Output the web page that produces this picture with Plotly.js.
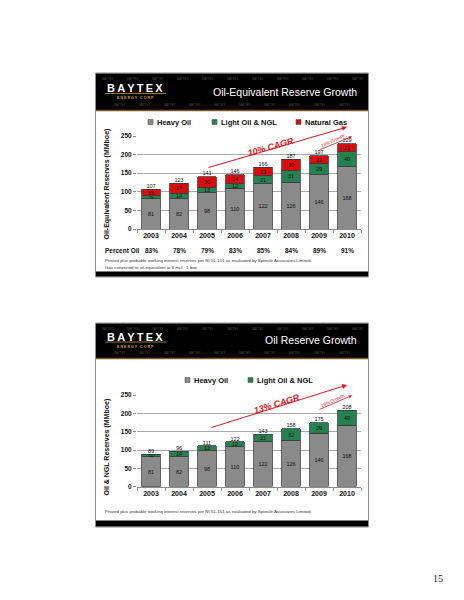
<!DOCTYPE html>
<html>
<head>
<meta charset="utf-8">
<script src="https://cdn.plot.ly/plotly-3.0.1.min.js"></script>
<style>html,body{margin:0;padding:0;background:#fff;}#chart{width:464px;height:600px;}</style>
</head>
<body>
<div id="chart"></div>
<script>
// ---------- data ----------
const years = ['2003','2004','2005','2006','2007','2008','2009','2010'];
const heavyOil1 = [81, 82, 98, 110, 122, 126, 146, 168];
const lightOil1 = [8, 14, 13, 12, 21, 31, 29, 40];
const naturalGas1 = [18, 27, 30, 24, 23, 30, 22, 21];
const totals1 = [107, 123, 141, 146, 166, 187, 197, 229];
const percentOil = ['83%','78%','79%','83%','85%','84%','89%','91%'];

const heavyOil2 = [81, 82, 98, 110, 122, 126, 146, 168];
const lightOil2 = [8, 14, 13, 12, 21, 32, 29, 40];
const totals2 = [89, 96, 111, 122, 143, 158, 175, 208];

const seriesNames = ['Heavy Oil', 'Light Oil & NGL', 'Natural Gas'];
const titles = ['Oil-Equivalent Reserve Growth', 'Oil Reserve Growth'];
const yTitles = ['Oil-Equivalent Reserves (MMboe)', 'Oil & NGL Reserves (MMboe)'];
const cagrLabels = ['10% CAGR', '13% CAGR'];
const growthLabels = ['16% Growth', '19% Growth'];
const footnote1 = 'Proved plus probable working interest reserves per NI 51-101 as evaluated by Sproule Associates Limited.';
const footnote2 = 'Gas converted to oil-equivalent at 6 mcf : 1 boe.';

// ---------- styling ----------
const FONT = 'Liberation Sans, Arial, sans-serif';
const cHeavy = '#8a8a8a', cLight = '#23824f', cGas = '#dd0c0c', cEdge = '#3a3a3a', cRed = '#e8141c';
const W = 464, H = 600;
const X = p => p / W;
const Y = p => 1 - p / H;

function barTrace(name, vals, color, xa, ya) {
  return {
    type: 'bar', name: name, x: years, y: vals, xaxis: xa, yaxis: ya,
    marker: {color: color, line: {color: cEdge, width: 0.8}},
    text: vals.map(String), textposition: 'inside', insidetextanchor: 'middle',
    constraintext: 'none',
    textfont: {family: FONT, size: 5.5, color: '#111'},
    hoverinfo: 'skip'
  };
}
function totalTrace(vals, xa, ya) {
  return {
    type: 'scatter', mode: 'text', x: years, y: vals, xaxis: xa, yaxis: ya,
    text: vals.map(String), textposition: 'top center', cliponaxis: false,
    textfont: {family: FONT, size: 5.5, color: '#111'}, hoverinfo: 'skip', showlegend: false
  };
}

const data = [
  barTrace(seriesNames[0], heavyOil1, cHeavy, 'x', 'y'),
  barTrace(seriesNames[1], lightOil1, cLight, 'x', 'y'),
  barTrace(seriesNames[2], naturalGas1, cGas, 'x', 'y'),
  totalTrace(totals1, 'x', 'y'),
  barTrace(seriesNames[0], heavyOil2, cHeavy, 'x2', 'y2'),
  barTrace(seriesNames[1], lightOil2, cLight, 'x2', 'y2'),
  totalTrace(totals2, 'x2', 'y2')
];

function xAxis(anchor) {
  return {
    domain: [X(137), X(361)], anchor: anchor, type: 'category',
    categoryorder: 'array', categoryarray: years,
    range: [-0.5, years.length - 0.5], autorange: false,
    showline: true, linecolor: '#8a8a8a', linewidth: 1,
    ticks: 'outside', tickson: 'boundaries', ticklen: 3, tickcolor: '#8a8a8a',
    tickfont: {family: FONT, size: 7, weight: 'bold', color: '#111'},
    showgrid: false, zeroline: false, fixedrange: true
  };
}
function yAxis(anchor, top, bottom) {
  return {
    domain: [Y(bottom), Y(top)], anchor: anchor, range: [0, 250], tick0: 0, dtick: 50,
    showgrid: true, gridcolor: '#a8a8a8', gridwidth: 1, zeroline: false, showline: false,
    ticks: 'outside', ticklen: 3, tickcolor: '#8a8a8a',
    tickfont: {family: FONT, size: 6.5, weight: 'bold', color: '#111'}, fixedrange: true
  };
}

// ---------- decorations (slides) ----------
const shapes = [];
const annotations = [];
function rect(x0, y0, x1, y1, fill, lineColor, lw, layer) {
  shapes.push({type: 'rect', xref: 'paper', yref: 'paper', x0: X(x0), x1: X(x1), y0: Y(y1), y1: Y(y0),
    fillcolor: fill, line: {color: lineColor || fill, width: lw || 0}, layer: layer || 'below'});
}
function hline(x0, x1, y, color, w) {
  shapes.push({type: 'line', xref: 'paper', yref: 'paper', x0: X(x0), x1: X(x1), y0: Y(y), y1: Y(y),
    line: {color: color, width: w}, layer: 'below'});
}
function note(text, x, y, opts) {
  annotations.push(Object.assign({xref: 'paper', yref: 'paper', x: X(x), y: Y(y), text: text,
    showarrow: false, xanchor: 'center', yanchor: 'middle',
    font: {family: FONT, size: 7, color: '#111'}}, opts || {}));
}

const slides = [
  {top: 73, bottom: 277, bannerBottom: 110, logoY: 88, titleY: 92, bottomBar: 271.5,
   legendY: 122, legend: [[148, 0], [212, 1], [296, 2]], yTitleY: 184,
   foot: [[footnote1, 260], [footnote2, 267]],
   cagr: {head: [347, 127], tail: [207, 168], text: [270.5, 147], ang: -16},
   growth: {head: [352, 136.5], tail: [318, 150.5], text: [333, 140.5]}},
  {top: 323, bottom: 527, bannerBottom: 358, logoY: 336.5, titleY: 340, bottomBar: 520.5,
   legendY: 380, legend: [[185, 0], [248, 1]], yTitleY: 447,
   foot: [[footnote1, 511.5]],
   cagr: {head: [347, 385], tail: [210, 428], text: [276.5, 403.5], ang: -17},
   growth: {head: [352, 395.5], tail: [318, 410], text: [333, 400.5]}}
];
const legendColors = [cHeavy, cLight, cGas];

slides.forEach((s, i) => {
  rect(95.5, s.top, 368.5, s.bottom, '#ffffff', '#8e8e8e', 1);
  rect(96, s.top + 0.5, 368, s.bannerBottom, '#000000');
  hline(96, 368, s.bannerBottom + 0.5, '#7a5a26', 1.5);
  rect(96, s.bottomBar, 368, s.bottom - 0.5, '#000000');
  hline(105, 166, s.logoY + 5.5, '#b8962e', 0.8);
  // watermark rows in banner
  [s.top + 6, s.bannerBottom - 5].forEach((ry, r) => {
    for (let wx = 108 + r * 12; wx < 362; wx += 25) {
      note('BAYTEX', wx, ry, {font: {family: FONT, size: 3, color: '#4a4a4a'}});
    }
  });
  note('B\u2009A\u2009Y\u2009T\u2009E\u2009X', 135, s.logoY, {font: {family: FONT, size: 11, weight: 'bold', color: '#ffffff'}});
  note('E N E R G Y &nbsp; C O R P', 135, s.logoY + 10, {font: {family: FONT, size: 3.6, weight: 'bold', color: '#c9a23a'}});
  note(titles[i], 358.5, s.titleY, {xanchor: 'right', font: {family: FONT, size: 10.5, color: '#ffffff'}});
  // legend
  s.legend.forEach(([lx, k]) => {
    rect(lx, s.legendY - 2.5, lx + 5, s.legendY + 2.5, legendColors[k], '#555555', 0.6, 'above');
    note(seriesNames[k], lx + 7, s.legendY, {xanchor: 'left', font: {family: FONT, size: 7.5, weight: 'bold', color: '#111'}});
  });
  // y-axis title
  note(yTitles[i], 106.5, s.yTitleY, {textangle: -90, font: {family: FONT, size: 7, weight: 'bold', color: '#111'}});
  // footnotes
  s.foot.forEach(([t, fy]) => note(t, 103, fy, {xanchor: 'left', font: {family: FONT, size: 4.4, color: '#333'}}));
  // CAGR arrow
  annotations.push({xref: 'paper', yref: 'paper', x: X(s.cagr.head[0]), y: Y(s.cagr.head[1]),
    axref: 'pixel', ayref: 'pixel', ax: s.cagr.tail[0] - s.cagr.head[0], ay: s.cagr.tail[1] - s.cagr.head[1],
    text: '', showarrow: true, arrowhead: 2, arrowsize: 1, arrowwidth: 1, arrowcolor: cRed});
  note(cagrLabels[i], s.cagr.text[0], s.cagr.text[1], {textangle: s.cagr.ang,
    font: {family: FONT, size: 9, weight: 'bold', style: 'italic', color: cRed}});
  annotations.push({xref: 'paper', yref: 'paper', x: X(s.growth.head[0]), y: Y(s.growth.head[1]),
    axref: 'pixel', ayref: 'pixel', ax: s.growth.tail[0] - s.growth.head[0], ay: s.growth.tail[1] - s.growth.head[1],
    text: '', showarrow: true, arrowhead: 2, arrowsize: 0.8, arrowwidth: 0.8, arrowcolor: cRed});
  note(growthLabels[i], s.growth.text[0], s.growth.text[1], {textangle: -25,
    font: {family: FONT, size: 4.6, style: 'italic', color: cRed}});
});

// Percent Oil row (slide 1)
note('Percent Oil', 103, 250, {xanchor: 'left', font: {family: FONT, size: 6.5, weight: 'bold', color: '#111'}});
percentOil.forEach((p, j) => {
  annotations.push({xref: 'x', yref: 'paper', x: j, y: Y(250), text: p, showarrow: false,
    xanchor: 'center', yanchor: 'middle', font: {family: FONT, size: 6.5, weight: 'bold', color: '#111'}});
});

// page number
note('15', 438, 578, {font: {family: 'Liberation Serif, Times New Roman, serif', size: 10, color: '#222'}});

const layout = {
  width: W, height: H, margin: {l: 0, r: 0, t: 0, b: 0},
  paper_bgcolor: '#ffffff', plot_bgcolor: 'rgba(0,0,0,0)',
  showlegend: false, barmode: 'stack', bargap: 0.35,
  xaxis: xAxis('y'), yaxis: yAxis('x', 136, 229),
  xaxis2: xAxis('y2'), yaxis2: yAxis('x2', 395, 486.7),
  shapes: shapes, annotations: annotations
};

Plotly.newPlot('chart', data, layout, {staticPlot: true, displayModeBar: false});
</script>
</body>
</html>
